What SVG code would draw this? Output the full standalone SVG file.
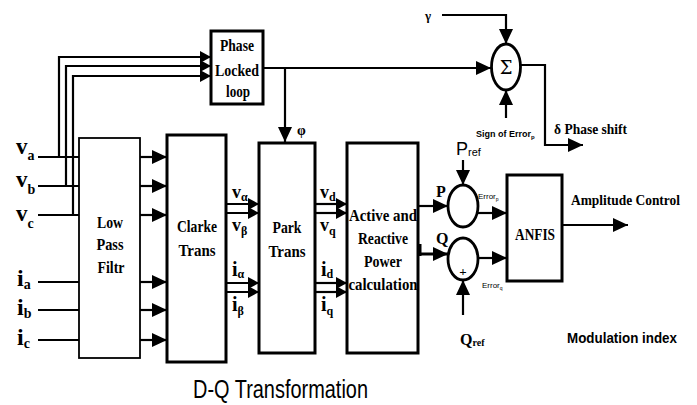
<svg xmlns="http://www.w3.org/2000/svg" width="697" height="405" viewBox="0 0 697 405">
<style>
.bg{fill:#fff}
.box{fill:#fff;stroke:#000;stroke-width:3}
.thin{fill:#fff;stroke:#000;stroke-width:1.8}
.ln{fill:none;stroke:#000;stroke-width:2.2}
.arr{fill:none;stroke:#000;stroke-width:2.2;marker-end:url(#ah)}
.arrs{fill:none;stroke:#000;stroke-width:2.2;marker-end:url(#ahs)}
.ell{fill:#fff;stroke:#000;stroke-width:2.8}
.t{font-family:"Liberation Serif",serif;font-weight:bold;fill:#000}
.s{font-family:"Liberation Sans",sans-serif;fill:#000}
.c{text-anchor:middle}
</style>
<defs>
<marker id="ah" markerUnits="userSpaceOnUse" markerWidth="16" markerHeight="14" refX="15" refY="7" orient="auto">
<path d="M0,0 L15,7 L0,14 Z" fill="#000"/>
</marker>
<marker id="ahs" markerUnits="userSpaceOnUse" markerWidth="12" markerHeight="12" refX="11" refY="6" orient="auto">
<path d="M0,0 L11,6 L0,12 Z" fill="#000"/>
</marker>
</defs>
<rect class="bg" width="697" height="405"/>

<g id="connectors">
<path class="ln" d="M38,157 H79"/>
<path class="ln" d="M38,186 H79"/>
<path class="ln" d="M38,215 H79"/>
<path class="ln" d="M38,282 H79"/>
<path class="ln" d="M38,310 H79"/>
<path class="ln" d="M38,340 H79"/>
<path class="arrs" d="M59,157 V57 H211"/>
<path class="arrs" d="M66,186 V66 H211"/>
<path class="arrs" d="M73,215 V76 H211"/>
<path class="arr" d="M140,157 H167"/>
<path class="arr" d="M140,186 H167"/>
<path class="arr" d="M140,215 H167"/>
<path class="arr" d="M140,282 H167"/>
<path class="arr" d="M140,310 H167"/>
<path class="arr" d="M140,340 H167"/>
<path class="arrs" d="M225,204 H259"/>
<path class="arrs" d="M225,213 H259"/>
<path class="arrs" d="M225,283 H259"/>
<path class="arrs" d="M225,292 H259"/>
<path class="arrs" d="M315,204 H347"/>
<path class="arrs" d="M315,213 H347"/>
<path class="arrs" d="M315,283 H347"/>
<path class="arrs" d="M315,292 H347"/>
<path class="arr" d="M263,68 H491"/>
<path class="arr" d="M285,68 V142"/>
<path class="arr" d="M442,15 H506 V44"/>
<path class="arr" d="M506,118 V90"/>
<path class="arr" d="M521,65 H545 V145 H583"/>
<path class="arr" d="M418,206 H448"/>
<path class="arr" d="M418,254 H448" style="stroke-width:3"/>
<path class="ln" d="M420,244 V256" style="stroke-width:3"/>
<path class="arr" d="M463,160 V185"/>
<path class="arr" d="M463,315 V280"/>
<path class="arr" d="M478,213 H507"/>
<path class="arr" d="M478,258 H507"/>
<path class="arr" d="M562,225 H628"/>
</g>

<g id="pll">
<rect class="box" x="211" y="31" width="52" height="73"/>
<text class="t c" x="237" y="51" font-size="16" textLength="34" lengthAdjust="spacingAndGlyphs">Phase</text>
<text class="t c" x="237" y="76" font-size="16" textLength="44" lengthAdjust="spacingAndGlyphs">Locked</text>
<text class="t c" x="238" y="97" font-size="16" textLength="24" lengthAdjust="spacingAndGlyphs">loop</text>
</g>

<g id="lpf">
<rect class="thin" x="79" y="138" width="61" height="220"/>
<text class="t c" x="110" y="228" font-size="16" textLength="26" lengthAdjust="spacingAndGlyphs">Low</text>
<text class="t c" x="110" y="250" font-size="16" textLength="27" lengthAdjust="spacingAndGlyphs">Pass</text>
<text class="t c" x="111" y="273" font-size="16" textLength="27" lengthAdjust="spacingAndGlyphs">Filtr</text>
</g>

<g id="clarke">
<rect class="box" x="167" y="135" width="59" height="227"/>
<text class="t c" x="197" y="232" font-size="16" textLength="40" lengthAdjust="spacingAndGlyphs">Clarke</text>
<text class="t c" x="197" y="256" font-size="16" textLength="37" lengthAdjust="spacingAndGlyphs">Trans</text>
</g>

<g id="park">
<rect class="box" x="259" y="143" width="56" height="210"/>
<text class="t c" x="287" y="233" font-size="16" textLength="29" lengthAdjust="spacingAndGlyphs">Park</text>
<text class="t c" x="287" y="257" font-size="16" textLength="37" lengthAdjust="spacingAndGlyphs">Trans</text>
</g>

<g id="power">
<rect class="box" x="347" y="143" width="71" height="210"/>
<text class="t c" x="383" y="221" font-size="16" textLength="68" lengthAdjust="spacingAndGlyphs">Active and</text>
<text class="t c" x="383" y="244" font-size="16" textLength="50" lengthAdjust="spacingAndGlyphs">Reactive</text>
<text class="t c" x="383" y="267" font-size="16" textLength="38" lengthAdjust="spacingAndGlyphs">Power</text>
<text class="t c" x="383" y="290" font-size="16" textLength="69" lengthAdjust="spacingAndGlyphs">calculation</text>
</g>

<g id="sigma">
<ellipse class="ell" cx="506" cy="67" rx="14.5" ry="23"/>
<text x="506" y="74" font-family="'DejaVu Serif',serif" font-size="18" text-anchor="middle">Σ</text>
</g>

<g id="sumP">
<ellipse class="ell" cx="463" cy="206" rx="15" ry="21"/>
</g>
<g id="sumQ">
<ellipse class="ell" cx="463" cy="259" rx="15" ry="21"/>
<text class="t c" x="463" y="276" font-size="13">+</text>
</g>

<g id="anfis">
<rect class="box" x="507" y="175" width="55" height="106"/>
<text class="t c" x="535" y="240" font-size="16" textLength="40" lengthAdjust="spacingAndGlyphs">ANFIS</text>
</g>

<g id="labels">
<text class="t" x="16" y="154" font-size="23">v<tspan font-size="14" dy="6">a</tspan></text>
<text class="t" x="16" y="187" font-size="23">v<tspan font-size="14" dy="7">b</tspan></text>
<text class="t" x="16" y="221" font-size="23">v<tspan font-size="14" dy="7">c</tspan></text>
<text class="t" x="17" y="286" font-size="24">i<tspan font-size="14" dy="3">a</tspan></text>
<text class="t" x="17" y="315" font-size="24">i<tspan font-size="14" dy="3">b</tspan></text>
<text class="t" x="17" y="345" font-size="24">i<tspan font-size="14" dy="3">c</tspan></text>

<text class="t" x="232" y="198" font-size="18">v<tspan font-size="12" dy="3">α</tspan></text>
<text class="t" x="232" y="231" font-size="18">v<tspan font-size="12" dy="4">β</tspan></text>
<text class="t" x="232" y="276" font-size="20">i<tspan font-size="12" dy="2">α</tspan></text>
<text class="t" x="232" y="311" font-size="20">i<tspan font-size="12" dy="4">β</tspan></text>

<text class="t" x="320" y="198" font-size="18">v<tspan font-size="12" dy="3">d</tspan></text>
<text class="t" x="320" y="231" font-size="18">v<tspan font-size="12" dy="4">q</tspan></text>
<text class="t" x="321" y="276" font-size="20">i<tspan font-size="12" dy="2">d</tspan></text>
<text class="t" x="321" y="311" font-size="20">i<tspan font-size="12" dy="4">q</tspan></text>

<text class="t" x="297" y="135" font-size="14">φ</text>
<text class="t" x="425" y="20" font-size="13" font-weight="normal">γ</text>

<text class="s" x="476" y="137" font-size="9" font-weight="bold">Sign of Error<tspan font-size="6" dy="2">p</tspan></text>
<text class="t" x="554" y="134" font-size="15" textLength="73" lengthAdjust="spacingAndGlyphs">δ Phase shift</text>

<text class="s" x="456" y="155" font-size="18">P<tspan font-size="11" dy="1">ref</tspan></text>
<text class="t" x="436" y="197" font-size="16">P</text>
<text class="t" x="436" y="244" font-size="16">Q</text>
<text class="s" x="478" y="199" font-size="8">Error<tspan font-size="5" dy="2">p</tspan></text>
<text class="s" x="482" y="288" font-size="8">Error<tspan font-size="5" dy="2">q</tspan></text>
<text class="t" x="460" y="345" font-size="16">Q<tspan font-size="10" dy="1">ref</tspan></text>

<text class="t" x="571" y="205" font-size="14" textLength="109" lengthAdjust="spacingAndGlyphs">Amplitude Control</text>
<text class="s" x="567" y="343" font-size="15" font-weight="bold" textLength="110" lengthAdjust="spacingAndGlyphs">Modulation index</text>
<text class="s" x="193" y="398" font-size="25" textLength="175" lengthAdjust="spacingAndGlyphs">D-Q Transformation</text>
</g>
</svg>
